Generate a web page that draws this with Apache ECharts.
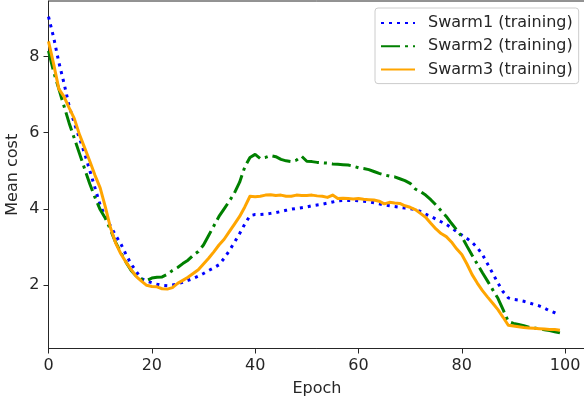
<!DOCTYPE html>
<html>
<head>
<meta charset="utf-8">
<script src="https://cdn.jsdelivr.net/npm/echarts@6/dist/echarts.min.js"></script>
<style>html,body{margin:0;padding:0;background:#fff}#c{width:584px;height:403px}</style>
</head>
<body>
<div id="c"></div>
<script>
const epochs = Array.from({length: 100}, (_, i) => i);
const seriesNames = ['Swarm1 (training)', 'Swarm2 (training)', 'Swarm3 (training)'];
const swarm1 = [9.05,8.5,7.85,7.3,6.7,6.25,5.85,5.45,5.0,4.55,4.1,3.8,3.55,3.3,3.08,2.8,2.55,2.35,2.17,2.1,2.06,2.02,1.99,1.98,2.0,2.03,2.07,2.12,2.17,2.23,2.3,2.38,2.45,2.53,2.7,2.9,3.12,3.35,3.6,3.82,3.85,3.85,3.86,3.88,3.9,3.93,3.96,3.99,4.01,4.03,4.05,4.08,4.1,4.12,4.15,4.18,4.21,4.22,4.22,4.22,4.21,4.2,4.18,4.16,4.13,4.1,4.08,4.06,4.04,4.02,4.0,3.98,3.93,3.86,3.8,3.73,3.66,3.59,3.5,3.4,3.31,3.22,3.12,2.98,2.8,2.55,2.3,2.05,1.82,1.66,1.62,1.6,1.57,1.53,1.49,1.45,1.39,1.32,1.27,1.21];
const swarm2 = [8.15,7.6,7.15,6.7,6.25,5.85,5.45,5.05,4.65,4.3,3.98,3.75,3.45,3.12,2.85,2.6,2.38,2.23,2.15,2.12,2.18,2.2,2.21,2.28,2.38,2.46,2.56,2.65,2.78,2.88,3.05,3.3,3.55,3.8,4.0,4.2,4.42,4.7,5.1,5.35,5.43,5.32,5.35,5.4,5.37,5.3,5.26,5.24,5.28,5.38,5.25,5.24,5.22,5.21,5.2,5.18,5.17,5.16,5.15,5.12,5.08,5.06,5.03,4.98,4.93,4.89,4.86,4.84,4.79,4.74,4.67,4.52,4.45,4.36,4.24,4.1,3.95,3.8,3.62,3.45,3.27,3.02,2.78,2.55,2.32,2.1,1.87,1.65,1.35,1.04,0.99,0.96,0.93,0.89,0.87,0.85,0.82,0.8,0.77,0.74];
const swarm3 = [8.4,7.8,7.15,6.95,6.65,6.37,5.95,5.6,5.25,4.88,4.55,4.05,3.5,3.1,2.82,2.6,2.4,2.22,2.1,1.99,1.96,1.95,1.9,1.89,1.93,2.04,2.12,2.2,2.3,2.4,2.55,2.7,2.87,3.05,3.2,3.4,3.6,3.8,4.05,4.33,4.32,4.33,4.36,4.37,4.35,4.36,4.33,4.33,4.36,4.35,4.35,4.36,4.34,4.33,4.3,4.36,4.27,4.28,4.27,4.26,4.27,4.25,4.24,4.23,4.2,4.13,4.17,4.15,4.14,4.08,4.04,3.98,3.88,3.78,3.62,3.47,3.35,3.27,3.13,2.95,2.8,2.55,2.27,2.05,1.85,1.68,1.52,1.35,1.15,0.94,0.92,0.9,0.88,0.87,0.86,0.85,0.84,0.83,0.83,0.81];
const xTicks = [0, 20, 40, 60, 80, 100];
const yTicks = [2, 4, 6, 8];

const font = 'DejaVu Sans';
const ink = '#262626';
const chart = echarts.init(document.getElementById('c'), null, {renderer: 'canvas'});
const mk = (arr) => epochs.map((e, i) => [e, arr[i]]);
chart.setOption({
  animation: false,
  backgroundColor: '#fff',
  grid: {left: 48.5, right: -1.5, top: 1, bottom: 54.5, show: true, borderColor: ink, borderWidth: 1,
         containLabel: false, outerBoundsMode: 'none'},
  xAxis: {
    type: 'value', min: 0, max: 103.95,
    name: 'Epoch', nameLocation: 'middle', nameGap: 32, nameMoveOverlap: false,
    nameTextStyle: {fontFamily: font, fontSize: 16, color: ink},
    axisLine: {show: true, onZero: false, lineStyle: {color: ink, width: 1}},
    axisTick: {show: true, length: 5, lineStyle: {color: ink}, customValues: xTicks},
    axisLabel: {fontFamily: font, fontSize: 16, color: ink, margin: 9, customValues: xTicks},
    splitLine: {show: false}
  },
  yAxis: {
    type: 'value', min: 0.33, max: 9.46,
    name: 'Mean cost', nameLocation: 'middle', nameGap: 28, nameRotate: 90, nameMoveOverlap: false,
    nameTextStyle: {fontFamily: font, fontSize: 16, color: ink},
    axisLine: {show: true, onZero: false, lineStyle: {color: ink, width: 1}},
    axisTick: {show: true, length: 5, lineStyle: {color: ink}, customValues: yTicks},
    axisLabel: {fontFamily: font, fontSize: 16, color: ink, margin: 9, customValues: yTicks},
    splitLine: {show: false}
  },
  legend: {
    show: true, orient: 'vertical', left: 375, top: 8,
    padding: [7, 6, 6, 5], itemGap: 7.3, itemWidth: 34, itemHeight: 14,
    backgroundColor: 'rgba(255,255,255,0.8)', borderColor: '#cccccc', borderWidth: 1, borderRadius: 3,
    itemStyle: {opacity: 0, borderWidth: 0},
    textStyle: {fontFamily: font, fontSize: 16, color: ink, padding: [0, 0, 0, 8], lineHeight: 14},
    data: seriesNames
  },
  series: [
    {name: seriesNames[0], type: 'line', data: mk(swarm1), symbol: 'none', showSymbol: false,
     lineStyle: {color: '#0000ff', width: 3, type: [3, 5], cap: 'butt'}, itemStyle: {color: '#0000ff'}, z: 3},
    {name: seriesNames[1], type: 'line', data: mk(swarm2), symbol: 'none', showSymbol: false,
     lineStyle: {color: '#008000', width: 3, type: [19, 5, 3, 5], cap: 'butt'}, itemStyle: {color: '#008000'}, z: 4},
    {name: seriesNames[2], type: 'line', data: mk(swarm3), symbol: 'none', showSymbol: false,
     lineStyle: {color: '#ffa500', width: 3, type: 'solid', join: 'round'}, itemStyle: {color: '#ffa500'}, z: 5}
  ]
});
</script>
</body>
</html>
